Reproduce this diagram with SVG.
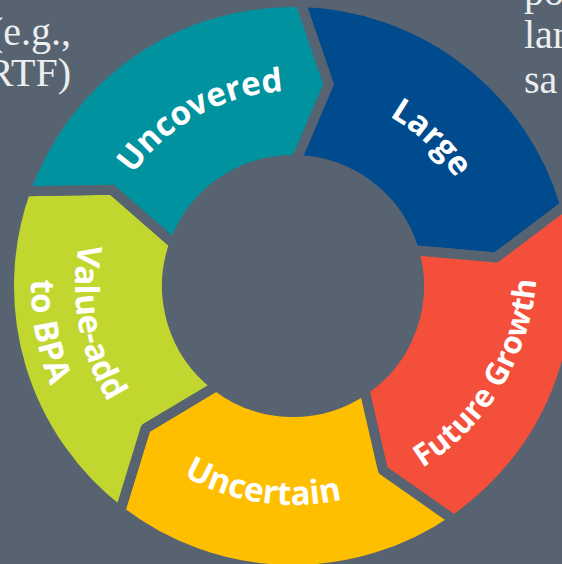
<svg xmlns="http://www.w3.org/2000/svg" width="562" height="564" viewBox="0 0 562 564">
<defs>
<style>
.seg{stroke:#576370;stroke-width:10;stroke-linejoin:round}
.lbl{font-family:"Open Sans","DejaVu Sans",sans-serif;font-weight:700;font-size:33px;fill:#ffffff}
.side{font-family:"Liberation Serif","Times New Roman",serif;font-size:40px;fill:#eceef0}
</style>
<path id="arcUncovered" d="M98.03,282.60 A195,195 0 0 1 393.43,118.85"/>
<path id="arcLarge" d="M235.99,99.52 A195,195 0 0 1 483.00,329.87"/>
<path id="arcFuture" d="M287.89,504.95 A244,244 0 0 0 506.82,143.45"/>
<path id="arcUncertain" d="M89.24,366.26 A219,219 0 0 0 464.39,422.33"/>
<path id="arcValue1" d="M151.42,120.23 A218,218 0 0 0 220.23,491.50"/>
<path id="arcValue2" d="M122.84,86.77 A262,262 0 0 0 205.54,532.97"/>
</defs>
<rect x="0" y="0" width="562" height="564" fill="#576370"/>
<g id="side-text">
<text class="side" x="71" y="45" text-anchor="end">(e.g.,</text>
<text class="side" x="71" y="86" text-anchor="end">RTF)</text>
<text class="side" x="524" y="5">po</text>
<text class="side" x="524" y="48">lar</text>
<text class="side" x="524" y="93">sa</text>
</g>
<g id="node-large">
<path class="seg" fill="#004a8e" d="M300.44,2.10 A284,284 0 0 1 565.30,205.34 L496.01,257.47 L413.81,250.21 A126,126 0 0 0 296.30,160.04 L328.60,84.11 Z"/>
<text class="lbl" text-anchor="middle"><textPath href="#arcLarge" startOffset="50%">Large</textPath></text>
</g>
<g id="node-future-growth">
<path class="seg" fill="#f44f3b" d="M565.30,205.34 A284,284 0 0 1 453.86,520.05 L382.87,470.25 L364.37,389.84 A126,126 0 0 0 413.81,250.21 L496.01,257.47 Z"/>
<text class="lbl" text-anchor="middle" style="font-size:31px"><textPath href="#arcFuture" startOffset="50%">Future Growth</textPath></text>
</g>
<g id="node-uncertain">
<path class="seg" fill="#fdbf00" d="M453.86,520.05 A284,284 0 0 1 120.11,511.31 L145.54,428.41 L216.30,385.96 A126,126 0 0 0 364.37,389.84 L382.87,470.25 Z"/>
<text class="lbl" text-anchor="middle"><textPath href="#arcUncertain" startOffset="50%">Uncertain</textPath></text>
</g>
<g id="node-value-add">
<path class="seg" fill="#c1d72f" d="M120.11,511.31 A284,284 0 0 1 25.29,191.20 L112.00,189.76 L174.23,243.94 A126,126 0 0 0 216.30,385.96 L145.54,428.41 Z"/>
<text class="lbl" text-anchor="middle"><textPath href="#arcValue1" startOffset="50%">Value-add</textPath></text>
<text class="lbl" text-anchor="middle"><textPath href="#arcValue2" startOffset="50%">to BPA</textPath></text>
</g>
<g id="node-uncovered">
<path class="seg" fill="#00929e" d="M25.29,191.20 A284,284 0 0 1 300.44,2.10 L328.60,84.11 L296.30,160.04 A126,126 0 0 0 174.23,243.94 L112.00,189.76 Z"/>
<text class="lbl" text-anchor="middle"><textPath href="#arcUncovered" startOffset="50%">Uncovered</textPath></text>
</g>
<g id="connectors"></g>
</svg>
